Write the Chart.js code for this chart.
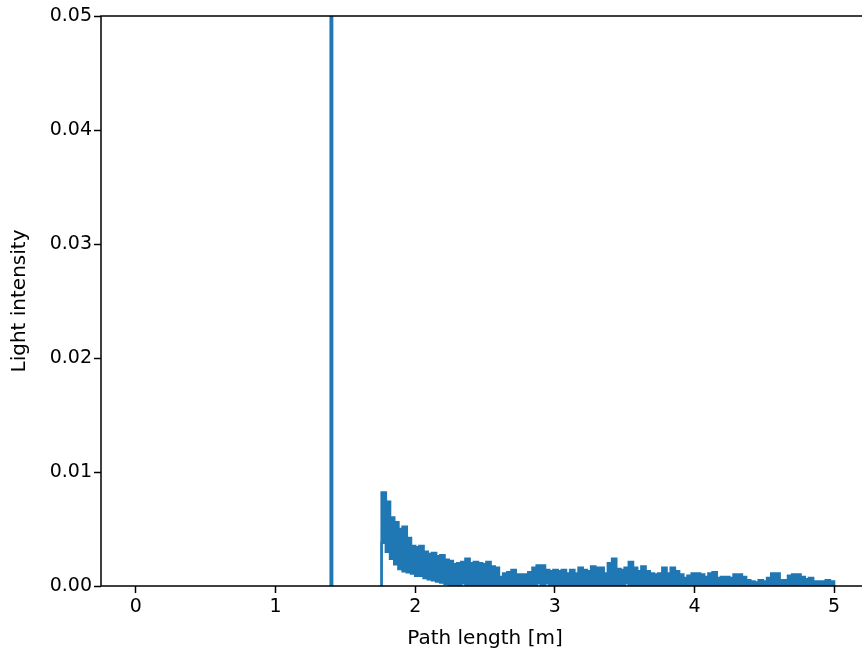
<!DOCTYPE html>
<html>
<head>
<meta charset="utf-8">
<script src="https://cdn.jsdelivr.net/npm/chart.js@4/dist/chart.umd.min.js"></script>
<style>
  html, body { margin: 0; padding: 0; background: #fff; overflow: hidden; }
  canvas { display: block; }
</style>
</head>
<body>
<canvas id="c" width="880" height="657"></canvas>
<script>
// Path-length histogram: bins of 0.03 m from 1.76 m to 5.00 m
const binStart = 1.76;
const binWidth = 0.03;

// Upper and lower envelope of the intensity inside each bin
const upperIntensity = [
  0.0082, 0.0074, 0.0060, 0.0056, 0.0050, 0.0052, 0.0042, 0.0035, 0.0034, 0.0035,
  0.0030, 0.0028, 0.0029, 0.0026, 0.0027, 0.0023, 0.0022, 0.0019, 0.0020, 0.0021,
  0.0024, 0.0020, 0.0021, 0.0020, 0.0019, 0.0021, 0.0017, 0.0016, 0.0008, 0.0011,
  0.0012, 0.0014, 0.0010, 0.0010, 0.0010, 0.0012, 0.0016, 0.0018, 0.0018, 0.0014,
  0.0013, 0.0014, 0.0013, 0.0014, 0.0011, 0.0014, 0.0011, 0.0016, 0.0014, 0.0013,
  0.0017, 0.0016, 0.0016, 0.0011, 0.0020, 0.0024, 0.0015, 0.0014, 0.0016, 0.0021,
  0.0016, 0.0013, 0.0017, 0.0013, 0.0011, 0.0010, 0.0011, 0.0016, 0.0011, 0.0016,
  0.0013, 0.0010, 0.0007, 0.0009, 0.0011, 0.0011, 0.0010, 0.0008, 0.0011, 0.0012,
  0.0007, 0.0008, 0.0008, 0.0007, 0.0010, 0.0010, 0.0008, 0.0005, 0.0004, 0.0003,
  0.0005, 0.0004, 0.0007, 0.0011, 0.0011, 0.0005, 0.0005, 0.0009, 0.0010, 0.0010,
  0.0008, 0.0006, 0.0007, 0.0004, 0.0004, 0.0004, 0.0005, 0.0004
];
const lowerIntensity = [
  0.0038, 0.0030, 0.0024, 0.0019, 0.0015, 0.0013, 0.0012, 0.0011, 0.0009, 0.0009,
  0.0007, 0.0006, 0.0005, 0.0004, 0.0003, 0.0002, 0, 0, 0, 0.00025,
  0, 0, 0, 0, 0, 0, 0, 0, 0, 0,
  0, 0, 0, 0, 0, 0, 0, 0.00025, 0, 0.00025,
  0, 0, 0, 0, 0, 0, 0, 0, 0, 0,
  0, 0, 0, 0, 0, 0, 0, 0, 0.00025, 0,
  0, 0, 0, 0, 0, 0, 0, 0, 0, 0,
  0, 0, 0, 0, 0, 0, 0, 0, 0, 0,
  0, 0, 0, 0, 0, 0, 0, 0, 0, 0,
  0, 0, 0, 0, 0, 0, 0, 0, 0, 0,
  0, 0, 0, 0, 0, 0, 0, 0
];

// Direct (line-of-sight) path: one narrow bin far above the plotted range
const directPath = 1.40;
const directWidth = 0.01;
const directIntensity = 0.5;

const xTicks = [0, 1, 2, 3, 4, 5];
const yTicks = [0, 0.01, 0.02, 0.03, 0.04, 0.05];

const BLUE = '#1f77b4';
const TICK_FONT = { family: 'DejaVu Sans', size: 19 };
const TITLE_FONT = { family: 'DejaVu Sans', size: 20 };

// Turn per-bin values into points for a step-before line (value holds until next edge)
function stepPoints(values) {
  const pts = [{ x: binStart, y: 0 }];
  values.forEach((v, i) => pts.push({ x: binStart + i * binWidth, y: v }));
  pts.push({ x: binStart + values.length * binWidth, y: 0 });
  return pts;
}

const directPoints = [
  { x: directPath - directWidth / 2, y: 0 },
  { x: directPath - directWidth / 2, y: directIntensity },
  { x: directPath + directWidth / 2, y: 0 }
];

// Axes frame drawn on top of the data, like plot spines
const framePlugin = {
  id: 'frame',
  afterDatasetsDraw(chart) {
    const { ctx, chartArea: a } = chart;
    ctx.save();
    ctx.strokeStyle = '#000';
    ctx.lineWidth = 1.5;
    ctx.strokeRect(a.left, a.top, a.right - a.left, a.bottom - a.top);
    ctx.restore();
  }
};

// Datasets are painted last-index first: the lower envelope (index 0) clears
// the area beneath it in white on top of the filled upper envelope.
new Chart(document.getElementById('c'), {
  type: 'line',
  data: {
    datasets: [
      {
        data: stepPoints(lowerIntensity),
        stepped: 'before',
        borderColor: BLUE,
        backgroundColor: '#ffffff',
        borderWidth: 2.5,
        pointRadius: 0,
        fill: 'origin'
      },
      {
        data: stepPoints(upperIntensity),
        stepped: 'before',
        borderColor: BLUE,
        backgroundColor: BLUE,
        borderWidth: 2.5,
        pointRadius: 0,
        fill: 'origin'
      },
      {
        data: directPoints,
        stepped: 'before',
        borderColor: BLUE,
        backgroundColor: BLUE,
        borderWidth: 2.5,
        pointRadius: 0,
        fill: 'origin',
        clip: 0
      }
    ]
  },
  options: {
    responsive: false,
    animation: false,
    events: [],
    layout: { padding: { left: 0, top: 16, right: 11, bottom: 0 } },
    plugins: { legend: { display: false }, tooltip: { enabled: false } },
    scales: {
      x: {
        type: 'linear',
        min: -0.25,
        max: 5.25,
        afterBuildTicks: s => { s.ticks = xTicks.map(v => ({ value: v })); },
        afterFit: s => { s.height = 71; },
        border: { display: false },
        grid: { drawOnChartArea: false, drawTicks: true, tickLength: 7, tickColor: '#000', tickWidth: 1.5 },
        ticks: { color: '#000', font: TICK_FONT, padding: 3, maxRotation: 0, callback: v => String(v) },
        title: { display: true, text: 'Path length [m]', color: '#000', font: TITLE_FONT, padding: { top: 0, bottom: 6 } }
      },
      y: {
        type: 'linear',
        min: 0,
        max: 0.05,
        afterBuildTicks: s => { s.ticks = yTicks.map(v => ({ value: v })); },
        afterFit: s => { s.width = 101; },
        border: { display: false },
        grid: { drawOnChartArea: false, drawTicks: true, tickLength: 7, tickColor: '#000', tickWidth: 1.5 },
        ticks: { color: '#000', font: TICK_FONT, padding: 2, callback: v => v.toFixed(2) },
        title: { display: true, text: 'Light intensity', color: '#000', font: TITLE_FONT, padding: { top: 8, bottom: 0 } }
      }
    }
  },
  plugins: [framePlugin]
});
</script>
</body>
</html>
